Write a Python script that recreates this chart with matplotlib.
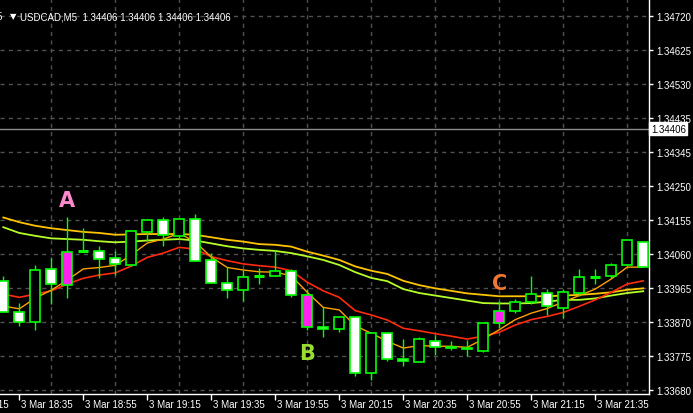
import matplotlib
matplotlib.use("Agg")
import matplotlib.pyplot as plt
import matplotlib.transforms as mtransforms
from matplotlib.patches import Rectangle
import numpy as np

# USDCAD M5 candles, 18:30 .. 21:50
opens = [1.33983, 1.33896, 1.33868, 1.34016, 1.33971, 1.34066, 1.34066, 1.34046, 1.34027, 1.34119,
         1.34152, 1.34108, 1.34155, 1.34041, 1.33977, 1.33957, 1.33996, 1.33996, 1.34010, 1.33944,
         1.33855, 1.33849, 1.33882, 1.33727, 1.33838, 1.33766, 1.33757, 1.33816, 1.33799, 1.33793,
         1.33788, 1.33866, 1.33899, 1.33924, 1.33949, 1.33907, 1.33949, 1.33994, 1.33996, 1.34027,
         1.34091]
highs = [1.33996, 1.33921, 1.34027, 1.34046, 1.34160, 1.34130, 1.34080, 1.34066, 1.34124, 1.34155,
         1.34160, 1.34155, 1.34169, 1.34060, 1.34021, 1.34013, 1.34019, 1.34069, 1.34016, 1.33960,
         1.33910, 1.33882, 1.33882, 1.33838, 1.33841, 1.33821, 1.33827, 1.33832, 1.33816, 1.33818,
         1.33866, 1.33927, 1.33932, 1.33996, 1.33960, 1.33960, 1.34016, 1.34016, 1.34033, 1.34097,
         1.34091]
lows = [1.33896, 1.33857, 1.33846, 1.33918, 1.33935, 1.34063, 1.33991, 1.33999, 1.34024, 1.34094,
        1.34080, 1.34099, 1.34038, 1.33977, 1.33935, 1.33927, 1.33974, 1.33996, 1.33938, 1.33846,
        1.33827, 1.33841, 1.33719, 1.33708, 1.33760, 1.33746, 1.33757, 1.33777, 1.33791, 1.33774,
        1.33785, 1.33852, 1.33893, 1.33918, 1.33888, 1.33879, 1.33941, 1.33974, 1.33991, 1.34027,
        1.34021]
closes = [1.33896, 1.33868, 1.34013, 1.33974, 1.34063, 1.34066, 1.34044, 1.34030, 1.34122, 1.34152,
          1.34111, 1.34155, 1.34038, 1.33977, 1.33957, 1.33994, 1.33996, 1.34010, 1.33944, 1.33855,
          1.33849, 1.33882, 1.33727, 1.33838, 1.33766, 1.33760, 1.33821, 1.33799, 1.33796, 1.33796,
          1.33866, 1.33899, 1.33924, 1.33946, 1.33913, 1.33952, 1.33994, 1.33994, 1.34027, 1.34097,
          1.34021]

# moving averages
ma_fast = [1.33913, 1.33905, 1.33935, 1.33957, 1.33985, 1.34016, 1.34020, 1.34026, 1.34055, 1.34088,
           1.34099, 1.34115, 1.34091, 1.34049, 1.34020, 1.34013, 1.34008, 1.34007, 1.33997, 1.33951,
           1.33909, 1.33902, 1.33858, 1.33837, 1.33815, 1.33796, 1.33803, 1.33801, 1.33801, 1.33798,
           1.33821, 1.33847, 1.33875, 1.33893, 1.33906, 1.33924, 1.33942, 1.33960, 1.33988, 1.34021,
           1.34021]
ma_red = [1.33946, 1.33937, 1.33946, 1.33955, 1.33974, 1.33990, 1.33999, 1.34005, 1.34024, 1.34048,
          1.34060, 1.34076, 1.34071, 1.34050, 1.34039, 1.34030, 1.34025, 1.34021, 1.34011, 1.33979,
          1.33955, 1.33937, 1.33900, 1.33888, 1.33874, 1.33851, 1.33844, 1.33836, 1.33829, 1.33821,
          1.33829, 1.33840, 1.33860, 1.33875, 1.33884, 1.33895, 1.33912, 1.33930, 1.33951, 1.33974,
          1.33983]
ma_gold = [1.34159, 1.34146, 1.34136, 1.34129, 1.34124, 1.34119, 1.34116, 1.34111, 1.34112, 1.34113,
           1.34113, 1.34113, 1.34111, 1.34104, 1.34097, 1.34092, 1.34085, 1.34083, 1.34078, 1.34064,
           1.34053, 1.34041, 1.34023, 1.34011, 1.34002, 1.33983, 1.33971, 1.33962, 1.33955, 1.33948,
           1.33944, 1.33940, 1.33940, 1.33940, 1.33940, 1.33942, 1.33944, 1.33947, 1.33951, 1.33958,
           1.33962]
ma_lime = [1.34132, 1.34116, 1.34108, 1.34101, 1.34099, 1.34097, 1.34093, 1.34090, 1.34092, 1.34095,
           1.34097, 1.34099, 1.34095, 1.34087, 1.34079, 1.34073, 1.34069, 1.34066, 1.34060, 1.34051,
           1.34041, 1.34027, 1.34007, 1.33991, 1.33982, 1.33960, 1.33949, 1.33942, 1.33935, 1.33928,
           1.33921, 1.33920, 1.33920, 1.33921, 1.33925, 1.33930, 1.33930, 1.33934, 1.33942, 1.33949,
           1.33954]

marked_bars = [4, 19, 31]
marker_letters = ["A", "B", "C"]
marker_prices = [1.34208, 1.33782, 1.33977]
marker_colors = ["#ff88cc", "#99dd33", "#ee7733"]

time_bars = [-3, 1, 5, 9, 13, 17, 21, 25, 29, 33, 37]
time_labels = ["3 Mar 18:15", "3 Mar 18:35", "3 Mar 18:55", "3 Mar 19:15", "3 Mar 19:35",
               "3 Mar 19:55", "3 Mar 20:15", "3 Mar 20:35", "3 Mar 20:55", "3 Mar 21:15",
               "3 Mar 21:35"]
price_labels = ["1.33680", "1.33775", "1.33870", "1.33965", "1.34060", "1.34155",
                "1.34250", "1.34345", "1.34435", "1.34530", "1.34625", "1.34720"]
price_low, price_high = 1.33680, 1.34720
bid = 1.34406

plt.rcParams["font.family"] = ["Liberation Sans", "DejaVu Sans"]
GREEN = "#00ff00"

fig = plt.figure(figsize=(6.93, 4.14), dpi=100, facecolor="black")
ax = fig.add_axes([0, 19 / 414, 649 / 693, 395 / 414], facecolor="black")

n = len(opens)
x = np.arange(n)

ax.plot(x, ma_gold, color="#ffc400", lw=1.3, zorder=2)
ax.plot(x, ma_lime, color="#b4ff2a", lw=1.3, zorder=2)
ax.plot(x, ma_red, color="#ff2a10", lw=1.2, zorder=2)
ax.plot(x, ma_fast, color="#ffa000", lw=1.0, zorder=2)

w = 0.6
for i in range(n):
    o, h, l, c = opens[i], highs[i], lows[i], closes[i]
    ax.vlines(i, l, h, color=GREEN, lw=1, zorder=3)
    if abs(c - o) < 1e-6:
        ax.hlines(o, i - w / 2, i + w / 2, color=GREEN, lw=2.2, zorder=4)
        continue
    if i in marked_bars:
        fill = "#ff22ee"
    elif c > o:
        fill = "black"
    else:
        fill = "white"
    ax.add_patch(Rectangle((i - w / 2, min(o, c)), w, abs(c - o), facecolor=fill,
                           edgecolor=GREEN, lw=1.2, zorder=4))

for b, letter, p, col in zip(marked_bars, marker_letters, marker_prices, marker_colors):
    ax.text(b, p, letter, color=col, fontsize=15, fontweight="heavy", ha="center",
            va="center", family="DejaVu Sans", zorder=6)

# bid line and label
ax.axhline(bid, color="#8c8c8c", lw=1, zorder=1)
ax.text(1.003, bid, "1.34406", transform=mtransforms.blended_transform_factory(ax.transAxes, ax.transData),
        color="black", fontsize=7, va="center", ha="left", clip_on=False, zorder=7,
        bbox=dict(boxstyle="square,pad=0.15", facecolor="white", edgecolor="white"))

ax.set_xlim(-0.206, 40.36)
ax.set_ylim(1.336683, 1.347664)

yt = np.linspace(price_low, price_high, len(price_labels))
ax.yaxis.tick_right()
ax.set_yticks(yt)
ax.set_yticklabels(price_labels)
ax.tick_params(axis="y", colors="white", labelcolor="white", labelsize=7, length=3, width=1, pad=2)
ax.set_xticks(time_bars[1:])
ax.set_xticklabels([])
ax.set_xticks(np.arange(1, 41, 2), minor=True)
ax.tick_params(axis="x", which="major", colors="white", length=4, width=1)
ax.tick_params(axis="x", which="minor", length=0)
ax.grid(True, which="minor", axis="x", color="#505050", lw=1, ls=(0, (3, 3)))
ax.grid(True, which="major", axis="y", color="#505050", lw=1, ls=(0, (3, 3)))
ax.set_axisbelow(True)

xt = mtransforms.blended_transform_factory(ax.transData, ax.transAxes)
for b, lab in zip(time_bars, time_labels):
    ax.text(b + 0.12, -0.012, lab, transform=xt, color="white", fontsize=7,
            ha="left", va="top", clip_on=False)

for s in ["left", "top"]:
    ax.spines[s].set_visible(False)
for s in ["right", "bottom"]:
    ax.spines[s].set_color("white")
    ax.spines[s].set_linewidth(1)

fig.text(-3 / 693, 1 - 17 / 414, "5", color="white", fontsize=7, va="center", ha="left")
fig.text(10 / 693, 1 - 17 / 414, "\u25bc", color="white", fontsize=6, va="center", ha="left",
         family="DejaVu Sans")
fig.text(20 / 693, 1 - 17 / 414, "USDCAD,M5  1.34406 1.34406 1.34406 1.34406", color="white",
         fontsize=7, va="center", ha="left")

fig.savefig("out.png", dpi=100, facecolor="black")
